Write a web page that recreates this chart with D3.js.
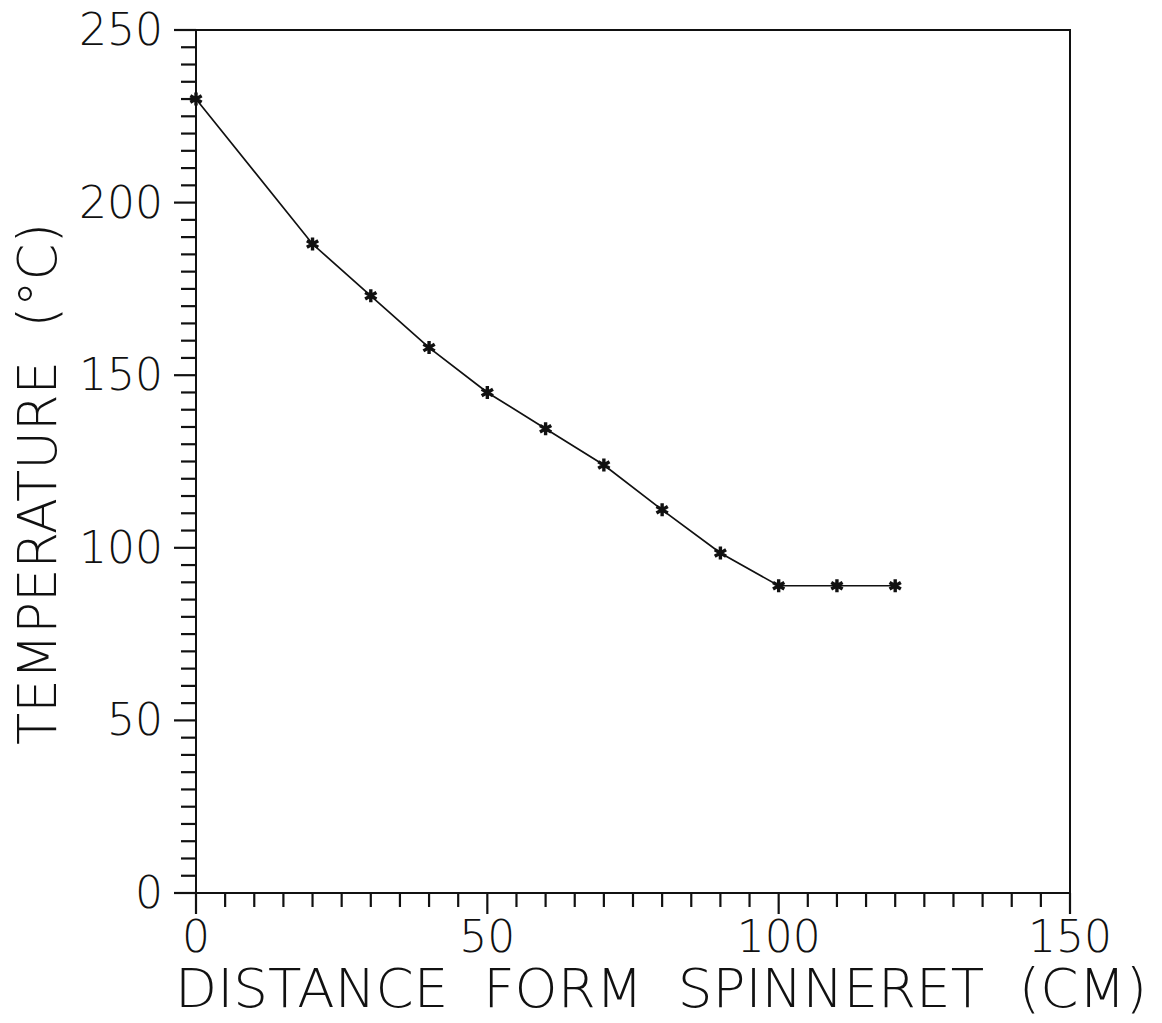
<!DOCTYPE html>
<html>
<head>
<meta charset="utf-8">
<script src="https://cdn.jsdelivr.net/npm/d3@7"></script>
<style>
  html, body { margin: 0; padding: 0; background: #fff; }
  svg { display: block; }
  text { font-family: "DejaVu Sans", sans-serif; font-weight: 200; fill: #111; white-space: pre; }
</style>
</head>
<body>
<svg id="chart" width="1162" height="1023"></svg>
<script>
const distance = [0, 20, 30, 40, 50, 60, 70, 80, 90, 100, 110, 120];
const temperature = [230, 188, 173, 158, 145, 134.5, 124, 111, 98.5, 89, 89, 89];
const xTicks = [0, 50, 100, 150];
const yTicks = [0, 50, 100, 150, 200, 250];
const xTitle = "DISTANCE  FORM  SPINNERET  (CM)";
const yTitle = "TEMPERATURE  (°C)";

const svg = d3.select("#chart");
const L = 196, R = 1070, T = 30, B = 893;
const x = d3.scaleLinear().domain([0, 150]).range([L, R]);
const y = d3.scaleLinear().domain([0, 250]).range([B, T]);

// frame
svg.append("rect").attr("x", L).attr("y", T).attr("width", R - L).attr("height", B - T)
  .attr("fill", "none").attr("stroke", "#111").attr("stroke-width", 2);

// ticks
const xMinor = d3.range(0, 151, 5);
const yMinor = d3.range(0, 251, 5);

const xAxis = svg.append("g").attr("transform", `translate(0,${B})`);
xAxis.selectAll("line").data(xMinor).join("line")
  .attr("x1", d => x(d)).attr("x2", d => x(d))
  .attr("y1", 0).attr("y2", d => d % 50 === 0 ? 21 : 14)
  .attr("stroke", "#111").attr("stroke-width", 2.2);
xAxis.selectAll("text").data(xTicks).join("text")
  .attr("x", d => x(d)).attr("y", 59)
  .attr("text-anchor", "middle").attr("font-size", 44)
  .text(d => d);

const yAxis = svg.append("g").attr("transform", `translate(${L},0)`);
yAxis.selectAll("line").data(yMinor).join("line")
  .attr("y1", d => y(d)).attr("y2", d => y(d))
  .attr("x1", 0).attr("x2", d => d % 50 === 0 ? -22 : -15)
  .attr("stroke", "#111").attr("stroke-width", 2.2);
yAxis.selectAll("text").data(yTicks).join("text")
  .attr("x", -33).attr("y", d => y(d) + 15)
  .attr("text-anchor", "end").attr("font-size", 44)
  .text(d => d);

// titles
svg.append("text").attr("x", 175).attr("y", 1007)
  .attr("font-size", 53).attr("textLength", 972).attr("lengthAdjust", "spacingAndGlyphs")
  .text(xTitle);
svg.append("text").attr("transform", "translate(56,745) rotate(-90)")
  .attr("font-size", 54).attr("textLength", 522).attr("lengthAdjust", "spacingAndGlyphs")
  .text(yTitle);

// line
const line = d3.line().x((d, i) => x(distance[i])).y(d => y(d));
svg.append("path").datum(temperature).attr("d", line)
  .attr("fill", "none").attr("stroke", "#111").attr("stroke-width", 1.7);

// markers
svg.selectAll(".pt").data(temperature).join("path").attr("class", "pt")
  .attr("transform", (d, i) => `translate(${x(distance[i])},${y(d)})`)
  .attr("d", d3.symbol(d3.symbolAsterisk, 120))
  .attr("stroke", "#111").attr("stroke-width", 3.4).attr("fill", "none");
</script>
</body>
</html>
